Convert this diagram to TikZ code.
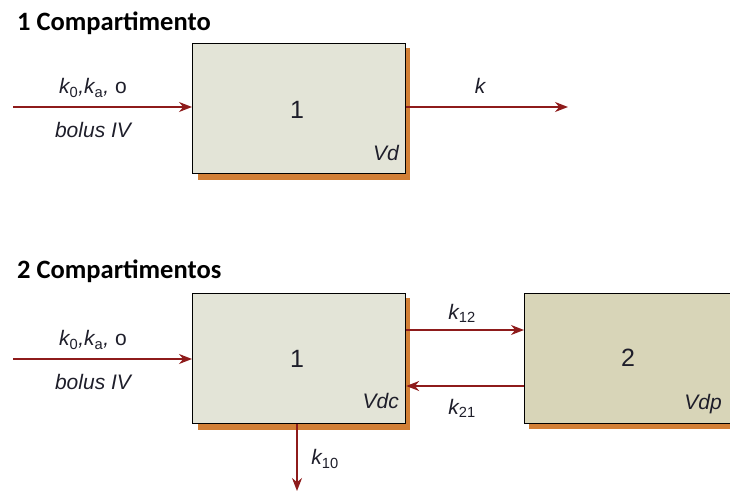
\documentclass[tikz,border=0pt]{standalone}
\usepackage{fontspec}
\setmainfont{Liberation Sans}
\newfontfamily\titlefont{Carlito}
\usetikzlibrary{arrows.meta}
\definecolor{arr}{HTML}{8E1B1B}
\definecolor{shad}{HTML}{D27F36}
\definecolor{fillA}{HTML}{E3E4D7}
\definecolor{fillB}{HTML}{D8D5B8}
\definecolor{txt}{HTML}{1E1E2A}
\tikzset{
  x=1pt, y=-1pt,
  comp/.style={draw=black, line width=1.2pt, minimum width=213pt, minimum height=130pt, inner sep=0pt, anchor=north west},
  flow/.style={draw=arr, line width=1.3pt, -{Stealth[length=13pt,width=10pt]}},
  lab/.style={font=\fontsize{21}{24}\selectfont\itshape, text=txt, inner sep=0pt},
  num/.style={font=\fontsize{25}{28}\selectfont, text=txt},
  title/.style={font=\titlefont\bfseries\fontsize{26.5}{29}\selectfont, text=black, anchor=west, inner sep=0pt},
}
\begin{document}
\begin{tikzpicture}
\useasboundingbox (0,0) rectangle (730,494);
\begin{scope}
\clip (0,0) rectangle (730,494);
% titles
\node[title] (t1) at (17,23) {1 Compartimento};
\node[title] (t2) at (17,271) {2 Compartimentos};
% shadows
\fill[shad] (198,48) rectangle (410,180);
\fill[shad] (198,298) rectangle (410,430);
\fill[shad] (529,298) rectangle (760,429);
% boxes
\node[comp, fill=fillA] (b1) at (192,43) {};
\node[comp, fill=fillA] (c1) at (192,293) {};
\node[comp, fill=fillB, minimum width=240pt] (c2) at (524,293) {};
% box labels
\node[num] (n1) at (297,110) {1};
\node[lab, anchor=east] (v1) at (399,153) {Vd};
\node[num] (n2) at (297,359) {1};
\node[lab, anchor=east] (v2) at (399,401) {Vdc};
\node[num] (n3) at (628,358) {2};
\node[lab, anchor=east] (v3) at (722,404) {Vdp};
% free ends
\coordinate (in1) at (13,107);
\coordinate (out1) at (568,107);
\coordinate (in2) at (13,359);
\coordinate (out2) at (297,491);
% arrows
\draw[flow] (in1) -- (b1.west |- in1);
\draw[flow] (b1.east |- out1) -- (out1);
\draw[flow] (in2) -- (c1.west |- in2);
\draw[flow] (c1.east |- 0,330) -- (c2.west |- 0,330);
\draw[flow] (c2.west |- 0,386) -- (c1.east |- 0,386);
\draw[flow] (c1.south -| out2) -- (out2);
% arrow labels
\node[lab] (l1) at (93,88) {k\textsubscript{\upshape 0},k\textsubscript{\upshape a}, \upshape o};
\node[lab] (l2) at (93,130) {bolus IV};
\node[lab] (l3) at (480,86) {k};
\node[lab] (l4) at (93,340) {k\textsubscript{\upshape 0},k\textsubscript{\upshape a}, \upshape o};
\node[lab] (l5) at (93,382) {bolus IV};
\node[lab] (l6) at (462,313) {k\textsubscript{\upshape 12}};
\node[lab] (l7) at (462,408) {k\textsubscript{\upshape 21}};
\node[lab] (l8) at (325,459) {k\textsubscript{\upshape 10}};
\end{scope}
\end{tikzpicture}
\end{document}
